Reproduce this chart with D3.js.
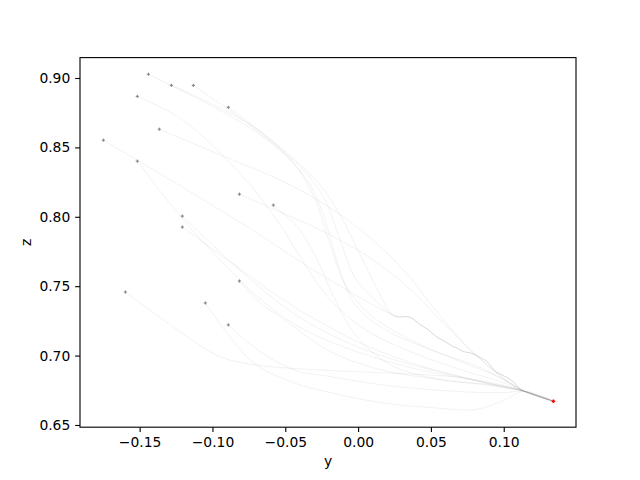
<!DOCTYPE html>
<html>
<head>
<meta charset="utf-8">
<script src="https://cdn.jsdelivr.net/npm/d3@7"></script>
<style>
  html, body { margin: 0; padding: 0; background: #fff; }
  svg { display: block; }
  text { font-family: "DejaVu Sans", sans-serif; }
</style>
</head>
<body>
<svg id="chart" width="640" height="480"></svg>
<script>
// ---- data (y, z) ----
const xTicks = [-0.15, -0.10, -0.05, 0.00, 0.05, 0.10];
const yTicks = [0.65, 0.70, 0.75, 0.80, 0.85, 0.90];
const xLabel = "y";
const yLabel = "z";

const endPoint = [0.1341, 0.6671];
const joinPoint = [0.1140, 0.6743];

const trunk = [
  [0.0234, 0.7295], [0.0288, 0.7278], [0.0330, 0.7282], [0.0371, 0.7268],
  [0.0426, 0.7223], [0.0481, 0.7187], [0.0536, 0.7137], [0.0598, 0.7101],
  [0.0652, 0.7065], [0.0687, 0.7050], [0.0721, 0.7029], [0.0769, 0.7020],
  [0.0838, 0.6986], [0.0879, 0.6962], [0.0907, 0.6930], [0.0934, 0.6895],
  [0.0960, 0.6876], [0.1010, 0.6849], [0.1065, 0.6813], [0.1113, 0.6760]
];

const trajA = [[-0.1440, 0.9027], [-0.1085, 0.8842], [-0.0742, 0.8640], [-0.0501, 0.8446], [-0.0330, 0.8230], [-0.0227, 0.7978], [-0.0137, 0.7655], [-0.0021, 0.7367], [0.0185, 0.7187], [0.0495, 0.7043], [0.0838, 0.6914], [0.1040, 0.6800], joinPoint, endPoint];
const trajB = [[-0.1282, 0.8947], [-0.0948, 0.8784], [-0.0659, 0.8604], [-0.0433, 0.8374], [-0.0295, 0.8122], [-0.0192, 0.7799], [-0.0089, 0.7511], [0.0082, 0.7295], [0.0357, 0.7115], [0.0701, 0.6957], [0.0975, 0.6842], joinPoint, endPoint];
const trajC = [[-0.1131, 0.8947], [-0.0810, 0.8712], [-0.0570, 0.8518], [-0.0364, 0.8324], [-0.0227, 0.8122], [-0.0124, 0.7835], [-0.0021, 0.7561], [0.0151, 0.7367], ...trunk, endPoint];
const trajD = [[-0.0891, 0.8789], [-0.0639, 0.8590], [-0.0433, 0.8410], [-0.0261, 0.8230], [-0.0124, 0.8014], [0.0014, 0.7727], [0.0151, 0.7439], ...trunk, endPoint];
const trajE = [[-0.1516, 0.8868], [-0.1223, 0.8712], [-0.0982, 0.8496], [-0.0742, 0.8230], [-0.0536, 0.7942], [-0.0364, 0.7655], [-0.0192, 0.7403], [0.0048, 0.7187], [0.0357, 0.7029], [0.0701, 0.6899], [0.0975, 0.6813], joinPoint, endPoint];
const trajF = [[-0.1365, 0.8631], [-0.0948, 0.8446], [-0.0536, 0.8266], [-0.0192, 0.8065], [0.0082, 0.7849], [0.0323, 0.7604], [0.0529, 0.7331], [0.0735, 0.7079], [0.0941, 0.6885], [0.1060, 0.6790], joinPoint, endPoint];
const trajG = [[-0.1749, 0.8552], [-0.1429, 0.8353], [-0.1085, 0.8137], [-0.0707, 0.7892], [-0.0364, 0.7655], [-0.0055, 0.7460], ...trunk, endPoint];
const trajH = [[-0.1516, 0.8401], [-0.1257, 0.8050], [-0.0982, 0.7727], [-0.0707, 0.7439], [-0.0433, 0.7223], [-0.0089, 0.7058], [0.0357, 0.6914], [0.0769, 0.6827], joinPoint, endPoint];
const trajI = [[-0.0815, 0.8163], [-0.0570, 0.8050], [-0.0261, 0.7906], [0.0048, 0.7727], [0.0323, 0.7511], [0.0563, 0.7259], [0.0769, 0.7043], [0.0962, 0.6863], [0.1070, 0.6785], joinPoint, endPoint];
const trajJ = [[-0.0582, 0.8084], [-0.0412, 0.7921], [-0.0275, 0.7676], [-0.0158, 0.7403], [-0.0021, 0.7151], [0.0220, 0.6935], [0.0563, 0.6827], [0.0907, 0.6791], joinPoint, endPoint];
const trajK = [[-0.1207, 0.8005], [-0.0948, 0.7748], [-0.0673, 0.7489], [-0.0398, 0.7273], [-0.0089, 0.7101], [0.0288, 0.6957], [0.0701, 0.6849], [0.0960, 0.6780], joinPoint, endPoint];
const trajL = [[-0.1207, 0.7926], [-0.0879, 0.7676], [-0.0536, 0.7417], [-0.0192, 0.7201], [0.0151, 0.7029], [0.0563, 0.6885], [0.0975, 0.6784], joinPoint, endPoint];
const trajM = [[-0.1598, 0.7458], [-0.1174, 0.7137], [-0.0948, 0.6993], [-0.0721, 0.6935], [-0.0192, 0.6892], [0.0288, 0.6871], [0.0701, 0.6842], [0.0975, 0.6791], joinPoint, endPoint];
const trajN = [[-0.0815, 0.7537], [-0.0659, 0.7367], [-0.0536, 0.7281], [-0.0398, 0.7173], [-0.0192, 0.7029], [0.0151, 0.6899], [0.0563, 0.6827], [0.0907, 0.6784], joinPoint, endPoint];
const trajO = [[-0.1049, 0.7379], [-0.0902, 0.7165], [-0.0721, 0.6950], [-0.0446, 0.6806], [-0.0192, 0.6734], [0.0151, 0.6662], [0.0495, 0.6626], [0.0810, 0.6612], [0.1010, 0.6683], joinPoint, endPoint];
const trajP = [[-0.0891, 0.7221], [-0.0721, 0.7065], [-0.0446, 0.6899], [-0.0192, 0.6849], [0.0151, 0.6791], [0.0495, 0.6755], [0.0838, 0.6734], [0.1030, 0.6735], joinPoint, endPoint];

const trajectories = [trajA, trajB, trajC, trajD, trajE, trajF, trajG, trajH,
                      trajI, trajJ, trajK, trajL, trajM, trajN, trajO, trajP];

// ---- layout ----
const W = 640, H = 480;
const m = { left: 80, top: 57.6, right: 64, bottom: 52.8 };
const iw = W - m.left - m.right, ih = H - m.top - m.bottom;
const pt = 100 / 72;

const x = d3.scaleLinear().domain([-0.19095, 0.14962]).range([0, iw]);
const y = d3.scaleLinear().domain([0.6484, 0.9147]).range([ih, 0]);

const svg = d3.select("#chart");
const g = svg.append("g").attr("transform", `translate(${m.left},${m.top})`);

g.append("defs").append("clipPath").attr("id", "clip")
  .append("rect").attr("width", iw).attr("height", ih);

const plot = g.append("g").attr("clip-path", "url(#clip)");

const line = d3.line().x(d => x(d[0])).y(d => y(d[1])).curve(d3.curveCatmullRom.alpha(0.5));

plot.selectAll("path.traj").data(trajectories).join("path")
  .attr("class", "traj")
  .attr("d", line)
  .attr("fill", "none")
  .attr("stroke", "#999")
  .attr("stroke-opacity", 0.13)
  .attr("stroke-width", 1);

const plus = "M-1.6,0H1.6M0,-1.6V1.6";
plot.selectAll("path.start").data(trajectories.map(t => t[0])).join("path")
  .attr("class", "start")
  .attr("transform", d => `translate(${x(d[0])},${y(d[1])})`)
  .attr("d", plus)
  .attr("stroke", "#808080")
  .attr("stroke-width", 1)
  .attr("fill", "none");

plot.append("path")
  .attr("transform", `translate(${x(endPoint[0])},${y(endPoint[1])})`)
  .attr("d", "M-1.8,0H1.8M0,-1.8V1.8")
  .attr("stroke", "red")
  .attr("stroke-width", 1.6)
  .attr("fill", "none");

// ---- axes ----
const fmt = d3.format(".2f");
const fs = 10 * pt;
const xAxis = g.append("g").attr("transform", `translate(0,${ih})`)
  .call(d3.axisBottom(x).tickValues(xTicks).tickFormat(fmt).tickSize(3.5 * pt).tickPadding(3.5 * pt).tickSizeOuter(0));
const yAxis = g.append("g")
  .call(d3.axisLeft(y).tickValues(yTicks).tickFormat(fmt).tickSize(3.5 * pt).tickPadding(3.5 * pt).tickSizeOuter(0));
[xAxis, yAxis].forEach(a => {
  a.select(".domain").remove();
  a.selectAll(".tick line").attr("stroke", "#000").attr("stroke-width", 0.8 * pt);
  a.selectAll(".tick text").attr("fill", "#000").style("font-size", fs + "px").style("font-family", "DejaVu Sans");
});

g.append("rect").attr("width", iw).attr("height", ih)
  .attr("fill", "none").attr("stroke", "#000").attr("stroke-width", 0.8 * pt);

svg.append("text").attr("x", m.left + iw / 2).attr("y", 466)
  .attr("text-anchor", "middle").style("font-size", fs + "px").text(xLabel);
svg.append("text").attr("transform", `translate(31,${m.top + ih / 2}) rotate(-90)`)
  .attr("text-anchor", "middle").style("font-size", fs + "px").text(yLabel);
</script>
</body>
</html>
